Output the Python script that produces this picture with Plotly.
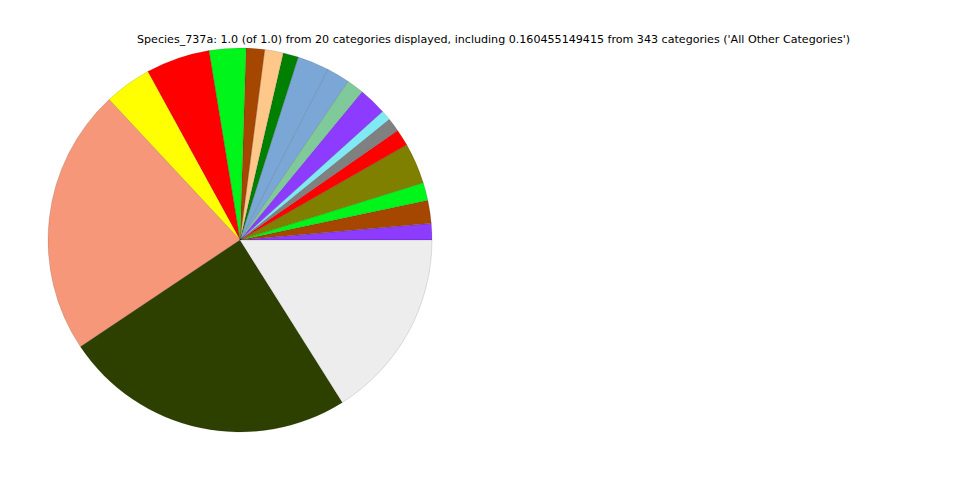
import plotly.graph_objects as go

labels = [f"Species_{i}" for i in range(1, 20)] + ["All Other Categories"]
values = [0.0138, 0.0194, 0.0150, 0.0343, 0.0142, 0.0115, 0.0086, 0.0235, 0.0146,
          0.0195, 0.0265, 0.0129, 0.0156, 0.0156, 0.0308, 0.0539, 0.0397, 0.2244,
          0.2456, 0.160455149415]
colors = ["#8c3bff", "#a54700", "#00f51a", "#808000", "#ff0000", "#808080", "#7fe9f4",
          "#8c3bff", "#7fc99a", "#7ba7d7", "#7ba7d7", "#008000", "#ffc78a", "#a54700",
          "#00f51a", "#ff0000", "#ffff00", "#f7977a", "#2d4000", "#ededed"]
title = ("Species_737a: 1.0 (of 1.0) from 20 categories displayed, including "
         "0.160455149415 from 343 categories ('All Other Categories')")

# plotly places the first counterclockwise slice clockwise of the rotation line;
# shift so the first slice starts at 3 o'clock going counterclockwise
rot = 90 - 360 * values[0] / sum(values)

fig = go.Figure(go.Pie(
    labels=labels, values=values, sort=False, direction="counterclockwise",
    rotation=rot, textinfo="none", showlegend=False,
    marker=dict(colors=colors, line=dict(color="rgba(0,0,0,0.2)", width=0.6)),
    domain=dict(x=[40 / 960, 424 / 960], y=[56 / 480, 440 / 480]),
))
fig.update_layout(
    width=960, height=480, margin=dict(l=0, r=0, t=0, b=0),
    paper_bgcolor="white", plot_bgcolor="white",
    annotations=[dict(text=title, x=485 / 960, y=1 - 32 / 480, xref="paper", yref="paper",
                      xanchor="center", yanchor="middle", showarrow=False,
                      font=dict(family="DejaVu Sans", size=11.1, color="black"))],
)
fig.write_html("out.html")
